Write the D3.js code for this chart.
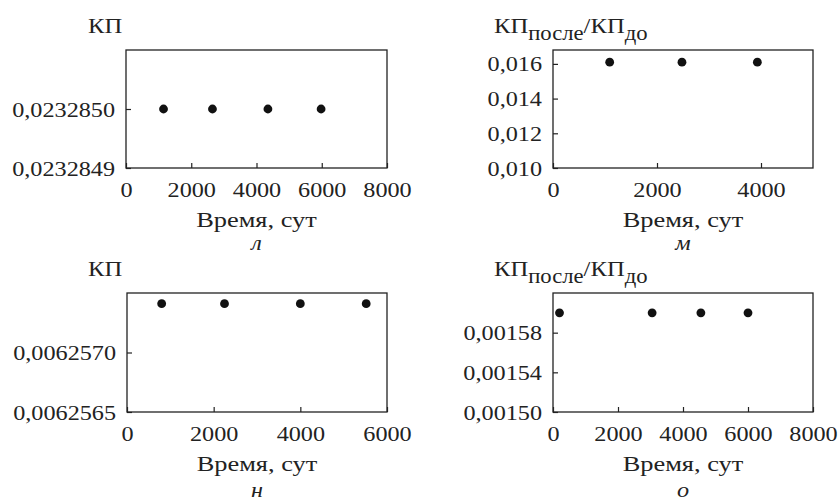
<!DOCTYPE html>
<html>
<head>
<meta charset="utf-8">
<script src="https://cdn.jsdelivr.net/npm/d3@7"></script>
<style>
  body { margin: 0; background: #fff; }
  svg text { font-family: "Liberation Serif", "Times New Roman", serif; fill: #222; }
  .st { transform-box: fill-box; }
</style>
</head>
<body>
<svg id="chart" width="839" height="501"></svg>
<script>
/* ── Data ─────────────────────────────────────────────────────────────── */
// panel л
const xL = [1150, 2650, 4350, 5980];
const yL = [0.0232850, 0.0232850, 0.0232850, 0.0232850];
const yTicksL = [0.0232849, 0.0232850];
const xTicksL = [0, 2000, 4000, 6000, 8000];

// panel м
const xM = [1090, 2480, 3930];
const yM = [0.0161, 0.0161, 0.0161];
const yTicksM = [0.010, 0.012, 0.014, 0.016];
const xTicksM = [0, 2000, 4000];

// panel н
const xN = [800, 2250, 4000, 5520];
const yN = [0.00625741, 0.00625741, 0.00625741, 0.00625741];
const yTicksN = [0.0062565, 0.0062570];
const xTicksN = [0, 2000, 4000, 6000];

// panel о
const xO = [200, 3050, 4550, 6000];
const yO = [0.00160, 0.00160, 0.00160, 0.00160];
const yTicksO = [0.00150, 0.00154, 0.00158];
const xTicksO = [0, 2000, 4000, 6000, 8000];

const X_TITLE = 'Время, сут';

/* ── Helpers ──────────────────────────────────────────────────────────── */
const FS = 22, SX = 1.1, INK = '#222';
const comma = d => String(d).replace('.', ',');

function stretch(sel, origin, k = SX) {
  sel.classed('st', true)
     .style('transform-origin', origin)
     .style('transform', `scaleX(${k})`);
}

function drawPanel(svg, p) {
  const {x0, x1, y0, y1} = p.box;
  const x = d3.scaleLinear().domain(p.xDomain).range([x0, x1]);
  const y = d3.scaleLinear().domain(p.yDomain).range([y1, y0]);
  const g = svg.append('g');

  // x axis, ticks inside
  const gx = g.append('g').attr('transform', `translate(0,${y1})`)
    .call(d3.axisBottom(x).tickValues(p.xTicks).tickSizeInner(-5).tickSizeOuter(0)
      .tickPadding(13).tickFormat(d3.format('d')));
  // y axis, ticks inside
  const gy = g.append('g').attr('transform', `translate(${x0},0)`)
    .call(d3.axisLeft(y).tickValues(p.yTicks).tickSizeInner(-5).tickSizeOuter(0)
      .tickPadding(11).tickFormat(d => comma(d3.format(p.yFmt)(d))));
  [gx, gy].forEach(a => {
    a.select('.domain').remove();
    a.selectAll('line').attr('stroke', INK).attr('stroke-width', 1.2);
    a.selectAll('text').attr('font-size', FS).attr('fill', INK)
      .style('font-family', '"Liberation Serif", serif');
  });
  stretch(gx.selectAll('text'), 'center');
  stretch(gy.selectAll('text'), 'right');

  // frame
  g.append('rect').attr('x', x0).attr('y', y0).attr('width', x1 - x0).attr('height', y1 - y0)
    .attr('fill', 'none').attr('stroke', INK).attr('stroke-width', 1.3);

  // points
  g.selectAll('circle.pt').data(p.xs).join('circle')
    .attr('class', 'pt')
    .attr('cx', d => x(d)).attr('cy', (d, i) => y(p.ys[i]))
    .attr('r', 4.4).attr('fill', '#111');

  // y title
  const t = g.append('text').attr('x', p.titleX).attr('y', y0 - 17)
    .attr('font-size', FS).attr('text-anchor', 'start');
  if (p.ratio) {
    t.append('tspan').text('КП');
    t.append('tspan').attr('dy', 7).attr('font-size', FS * 0.92).text('после');
    t.append('tspan').attr('dy', -7).text('/КП');
    t.append('tspan').attr('dy', 7).attr('font-size', FS * 0.92).text('до');
  } else {
    t.text('КП');
  }
  stretch(t, 'left', 1.12);

  // x title
  const xt = g.append('text').attr('x', (x0 + x1) / 2).attr('y', y1 + 59)
    .attr('font-size', FS).attr('text-anchor', 'middle').text(X_TITLE);
  stretch(xt, 'center', 1.2);

  // panel letter
  const lt = g.append('text').attr('x', (x0 + x1) / 2).attr('y', y1 + p.letterDy)
    .attr('font-size', FS).attr('font-style', 'italic').attr('text-anchor', 'middle').text(p.letter);
  stretch(lt, 'center');
}

/* ── Render ───────────────────────────────────────────────────────────── */
const svg = d3.select('#chart');

drawPanel(svg, { box: {x0: 126, x1: 387, y0: 50, y1: 168},
  xDomain: [0, 8000], yDomain: [0.0232849, 0.0232851],
  xTicks: xTicksL, yTicks: yTicksL, yFmt: '.7f', xs: xL, ys: yL,
  titleX: 88, letter: 'л', letterDy: 82 });

drawPanel(svg, { box: {x0: 553, x1: 813, y0: 50, y1: 168},
  xDomain: [0, 5000], yDomain: [0.010, 0.0168],
  xTicks: xTicksM, yTicks: yTicksM, yFmt: '.3f', xs: xM, ys: yM,
  titleX: 494, ratio: true, letter: 'м', letterDy: 82 });

drawPanel(svg, { box: {x0: 127, x1: 387, y0: 293, y1: 412},
  xDomain: [0, 6000], yDomain: [0.0062565, 0.0062575],
  xTicks: xTicksN, yTicks: yTicksN, yFmt: '.7f', xs: xN, ys: yN,
  titleX: 88, letter: 'н', letterDy: 85 });

drawPanel(svg, { box: {x0: 553, x1: 813, y0: 293, y1: 412},
  xDomain: [0, 8000], yDomain: [0.00150, 0.00162],
  xTicks: xTicksO, yTicks: yTicksO, yFmt: '.5f', xs: xO, ys: yO,
  titleX: 494, ratio: true, letter: 'о', letterDy: 85 });
</script>
</body>
</html>
